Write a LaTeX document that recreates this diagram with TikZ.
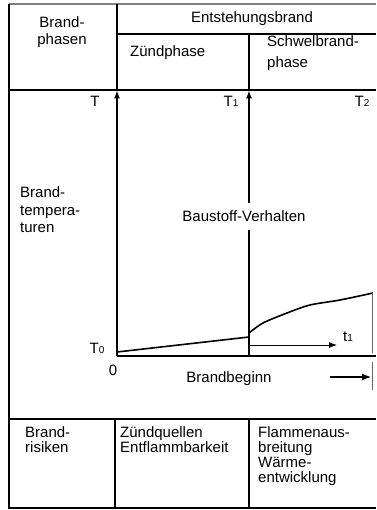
\documentclass[tikz,border=0pt]{standalone}
\usepackage{fontspec}
\setmainfont{Liberation Sans}
\usetikzlibrary{arrows.meta}
\newcommand{\sub}[1]{{\fontsize{10}{10}\selectfont #1}}
\begin{document}
\begin{tikzpicture}[x=1pt,y=-1pt,
  txt/.style={inner sep=0pt, font=\fontsize{15}{15}\selectfont},
  tl/.style={txt, anchor=base west},
  tc/.style={txt, anchor=base},
  frame/.style={line width=1.3pt, black},
  grid/.style={line width=1.1pt, black},
  axis/.style={line width=1.1pt, black, -{Latex[length=8pt,width=6pt]}},
  curve/.style={line width=1.6pt, black},
  thinarrow/.style={line width=0.9pt, black, -{Latex[length=8pt,width=6pt]}}]
\useasboundingbox (0,0) rectangle (376,510);
% frame
\coordinate (tl) at (9,4); \coordinate (tr) at (376,4);
\coordinate (bl) at (9,508); \coordinate (br) at (376,508);
\draw[line width=1.5pt, black!50] (tl) -- (tr);
\draw[frame] (tl) -- (bl) -- (br);
% header grid
\coordinate (h1a) at (117,4); \coordinate (h1b) at (117,90);
\coordinate (h2a) at (117,34); \coordinate (h2b) at (376,34);
\coordinate (h3a) at (249,34); \coordinate (h3b) at (249,90);
\coordinate (h4a) at (8,90); \coordinate (h4b) at (376,90);
\draw[grid] (h1a) -- (h1b);
\draw[grid] (h2a) -- (h2b);
\draw[grid] (h3a) -- (h3b);
\draw[grid] (h4a) -- (h4b);
% bottom grid
\coordinate (b1a) at (9,419); \coordinate (b1b) at (376,419);
\coordinate (b2a) at (115,419); \coordinate (b2b) at (115,508);
\coordinate (b3a) at (249,419); \coordinate (b3b) at (249,508);
\draw[grid] (b1a) -- (b1b);
\draw[grid] (b2a) -- (b2b);
\draw[grid] (b3a) -- (b3b);
% header texts
\node[tc] (bp1) at (62,28) {Brand-};
\node[tc] (bp2) at (62,45) {phasen};
\node[tc] (eb) at (252,23) {Entstehungsbrand};
\node[tl] (zp) at (130,57) {Zündphase};
\node[tl] (sb1) at (267,47) {Schwelbrand-};
\node[tl] (sb2) at (267,68) {phase};
% axes
\coordinate (o) at (117,356); \coordinate (ytop) at (117,90.5);
\coordinate (m) at (249,356); \coordinate (mtop) at (249,90.5);
\coordinate (xend) at (376,356);
\draw[axis] (o) -- (ytop);
\draw[axis] (m) -- (mtop);
\draw[line width=2pt] (o) -- (xend);
\node[tc, fill=white, inner xsep=1pt, inner ysep=8pt] (bv) at (244,222) {Baustoff-Verhalten};
% labels
\node[tc] (T) at (95,107) {T};
\node[tc] (T1) at (231,107) {T\sub{1}};
\node[tc] (T2) at (362,107) {T\sub{2}};
\node[tl] (bt1) at (20,198) {Brand-};
\node[tl] (bt2) at (20,216) {tempera-};
\node[tl] (bt3) at (20,233) {turen};
\node[tc] (T0) at (97,353) {T\sub{0}};
\node[tc] (zero) at (113,375) {0};
% curves
\coordinate (c0) at (117,352); \coordinate (c1) at (249,337);
\draw[curve] (c0) -- (c1);
\draw[curve] plot[smooth] coordinates {(249,333) (263,323) (287,313) (310,305) (340,300) (373,293)};
\coordinate (g1) at (372.5,293); \coordinate (g2) at (372.5,353);
\coordinate (g3) at (372.5,362); \coordinate (g4) at (372.5,390);
\draw[line width=1.2pt, black!60] (g1) -- (g2);
\draw[line width=1.2pt, black!60] (g3) -- (g4);
\coordinate (t1a) at (249,345); \coordinate (t1b) at (337,345);
\draw[thinarrow] (t1a) -- (t1b);
\node[tl] (t1) at (343,341) {t\sub{1}};
\node[tc] (bb) at (229,382) {Brandbeginn};
\coordinate (ba) at (330,377); \coordinate (bz) at (371,377);
\draw[line width=1.2pt, -{Latex[length=9pt,width=7pt]}] (ba) -- (bz);
% bottom texts
\node[tl] (br1) at (25,437) {Brand-};
\node[tl] (br2) at (25,452) {risiken};
\node[tl] (zq1) at (120,437) {Zündquellen};
\node[tl] (zq2) at (120,452) {Entflammbarkeit};
\node[tl] (fa1) at (258,437) {Flammenaus-};
\node[tl] (fa2) at (258,452) {breitung};
\node[tl] (fa3) at (258,467) {Wärme-};
\node[tl] (fa4) at (258,482) {entwicklung};
\end{tikzpicture}
\end{document}
